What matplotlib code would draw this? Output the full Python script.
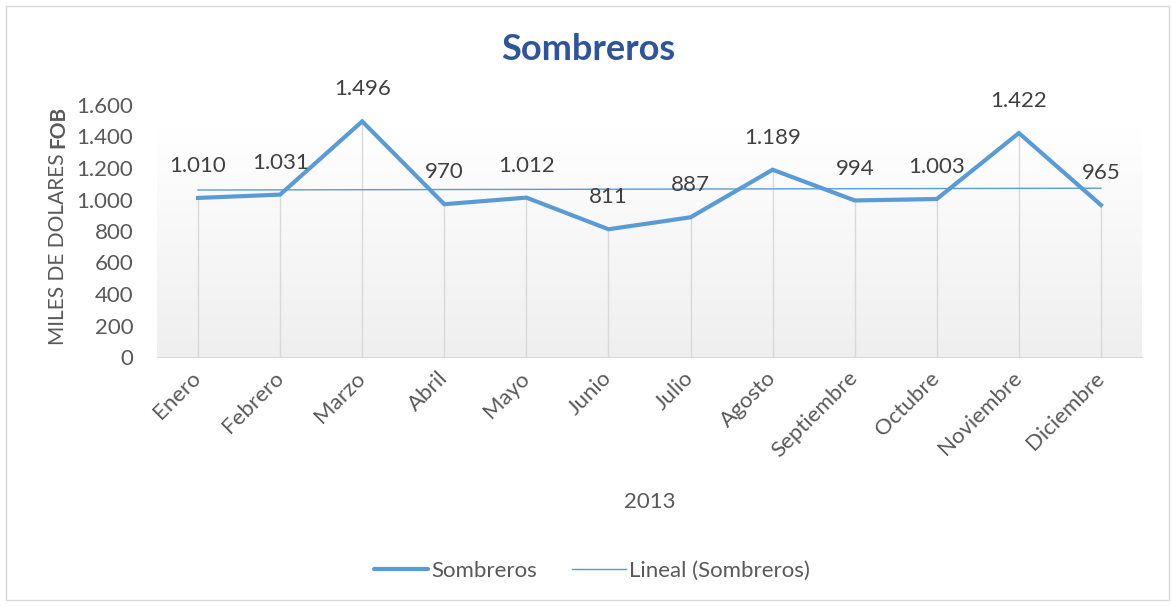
import numpy as np
import matplotlib
matplotlib.use("Agg")
from matplotlib import pyplot as plt
from matplotlib.lines import Line2D
from matplotlib.patches import Rectangle

###* DATA
meses = ["Enero", "Febrero", "Marzo", "Abril", "Mayo", "Junio", "Julio",
         "Agosto", "Septiembre", "Octubre", "Noviembre", "Diciembre"]
valores = [1010, 1031, 1496, 970, 1012, 811, 887, 1189, 994, 1003, 1422, 965]
y_ticks = [0, 200, 400, 600, 800, 1000, 1200, 1400, 1600]

AZUL = "#5B9BD5"
GRIS_TXT = "#595959"
FS = 16
plt.rcParams["font.family"] = ["Lato", "DejaVu Sans"]

def miles(v):
    return "{:,}".format(v).replace(",", ".")

###* FIGURE
W, H = 1173, 606
fig = plt.figure(figsize=(W / 100, H / 100), dpi=100)
fig.patches.append(Rectangle((6 / W, 6 / H), 1163 / W, 594 / H, transform=fig.transFigure,
                             fill=False, edgecolor="#d9d9d9", linewidth=1))
ax = fig.add_axes([157 / W, 249 / H, 985 / W, 252 / H])
x = np.arange(len(meses))

#* gradient background
grad = np.linspace(0, 1, 256).reshape(-1, 1)
ax.imshow(grad, cmap=matplotlib.colors.LinearSegmentedColormap.from_list("g", ["#efefef", "#ffffff"]),
          extent=[-0.5, len(meses) - 0.5, 0, 1450], origin="lower", aspect="auto", zorder=0)

#* drop lines
ax.vlines(x, 0, valores, color="#d9d9d9", linewidth=1, zorder=1)

#* series + trend
ax.plot(x, valores, color=AZUL, linewidth=3, solid_joinstyle="miter", zorder=3)
a, b = np.polyfit(x, valores, 1)
ax.plot(x, a * x + b, color=AZUL, linewidth=1, zorder=2)

for xi, v in zip(x, valores):
    ax.annotate(miles(v), (xi, v), xytext=(0, 23), textcoords="offset points",
                ha="center", va="center", fontsize=FS, color="#404040", zorder=4)

ax.set_xlim(-0.5, len(meses) - 0.5)
ax.set_ylim(0, 1600)
ax.set_yticks(y_ticks)
ax.set_yticklabels([miles(t) for t in y_ticks], fontsize=FS, color=GRIS_TXT)
ax.set_xticks(x)
ax.set_xticklabels(meses, rotation=45, ha="right", va="center", rotation_mode="anchor",
                   fontsize=FS, color=GRIS_TXT)
ax.tick_params(axis="y", length=0, pad=17)
ax.tick_params(axis="x", length=0, pad=13)
for s in ["top", "right", "left"]:
    ax.spines[s].set_visible(False)
ax.spines["bottom"].set_color("#d9d9d9")
ax.set_xlabel("2013", fontsize=FS, color=GRIS_TXT, labelpad=22)

#* titles
fig.text(588 / W, 1 - 50 / H, "Sombreros", ha="center", va="center", fontsize=26,
         fontweight="bold", color="#2F5597")
lab = fig.text(58 / W, 1 - 345 / H, "MILES DE DOLARES", rotation=90, ha="center", va="bottom",
               fontsize=15, color=GRIS_TXT)
fig.canvas.draw()
top = lab.get_window_extent().y1
fig.text(58 / W, (top + 5) / H, "FOB", rotation=90, ha="center", va="bottom",
         fontsize=15, fontweight="bold", color=GRIS_TXT)

#* legend
handles = [Line2D([], [], color=AZUL, linewidth=3, solid_capstyle="round"),
           Line2D([], [], color=AZUL, linewidth=1)]
fig.legend(handles, ["Sombreros", "Lineal (Sombreros)"], loc="center", bbox_to_anchor=(592 / W, 1 - 571 / H),
           ncol=2, frameon=False, fontsize=FS, labelcolor=GRIS_TXT, handlelength=2.4,
           handletextpad=0.15, columnspacing=1.6)

fig.savefig("out.png", dpi=100)
